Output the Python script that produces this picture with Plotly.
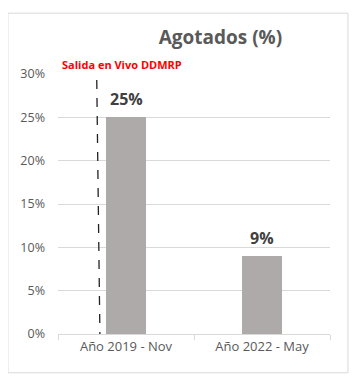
import plotly.graph_objects as go

categories = ["Año 2019 - Nov", "Año 2022 - May"]
values = [25, 9]
y_ticks = [0, 5, 10, 15, 20, 25, 30]
y_tick_labels = ["0%", "5%", "10%", "15%", "20%", "25%", "30%"]
title_text = "Agotados (%)"
marker_text = "Salida en Vivo DDMRP"

fig = go.Figure()
fig.add_trace(go.Bar(
    x=categories, y=values, width=0.295,
    marker=dict(color="#AEAAAA", line=dict(width=0)),
    hoverinfo="skip",
))

for c, v in zip(categories, values):
    fig.add_annotation(
        x=c, y=v, xref="x", yref="y", text=f"<b>{v}%</b>",
        showarrow=False, yanchor="middle", yshift=18,
        font=dict(family="Open Sans", size=16, color="#404040"),
    )

# dashed "go-live" marker line
fig.add_shape(type="line", xref="x", yref="y",
              x0=-0.215, y0=29.3, x1=-0.192, y1=0,
              line=dict(color="#222222", width=1.3, dash="dash"))
fig.add_annotation(x=-0.5, y=30, xref="x", yref="y", text=f"<b>{marker_text}</b>",
                   showarrow=False, xanchor="left", yanchor="bottom", xshift=2, yshift=0,
                   font=dict(family="Open Sans", size=11, color="#FF0000"))

# outer chart border
fig.add_shape(type="rect", xref="paper", yref="paper",
              x0=-0.184, x1=1.066, y0=-0.149, y1=1.234,
              line=dict(color="#D9D9D9", width=1), layer="below")

# page body has an 8px default margin, so the figure is sized/offset to fit
fig.update_layout(
    width=350, height=376,
    margin=dict(l=50, r=28, t=66, b=50, autoexpand=False),
    paper_bgcolor="white", plot_bgcolor="white",
    showlegend=False,
    title=dict(text=f"<b>{title_text}</b>", x=0.607, xanchor="center",
               y=0.923, yanchor="middle",
               font=dict(family="Open Sans", size=19, color="#595959")),
    bargap=0,
)
fig.update_xaxes(
    showline=True, linecolor="#D9D9D9", linewidth=1,
    ticks="outside", tickson="boundaries", ticklen=5, tickcolor="#D9D9D9",
    tickfont=dict(family="Open Sans", size=13, color="#595959"),
    showgrid=False, range=[-0.5, 1.5], automargin=False,
)
fig.update_yaxes(
    range=[0, 30], tickvals=y_ticks, ticktext=y_tick_labels,
    showgrid=True, gridcolor="#D9D9D9", gridwidth=1,
    zeroline=False, showline=False, ticks="", ticklabelstandoff=12,
    tickfont=dict(family="Open Sans", size=12.5, color="#595959"),
    automargin=False,
)

fig.write_html("out.html")
